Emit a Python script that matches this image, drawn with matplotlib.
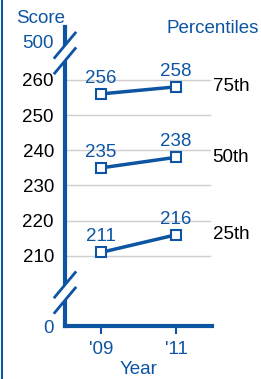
import matplotlib
matplotlib.use('Agg')
import matplotlib.pyplot as plt
from matplotlib.lines import Line2D
from matplotlib.patches import Polygon

plt.rcParams['font.family'] = ['Liberation Sans', 'DejaVu Sans']

years = [2009, 2011]
year_labels = ["'09", "'11"]
percentiles = ['75th', '50th', '25th']
scores = {
    '75th': [256, 258],
    '50th': [235, 238],
    '25th': [211, 216],
}
grid_ticks = [210, 220, 230, 240, 250, 260]

blue = '#0d55a3'
grey = '#cfcfcf'
fs = 13.5

fig = plt.figure(figsize=(2.61, 3.79), dpi=100)
ax = fig.add_axes([0.249, 0.1398, 0.563, 0.789])

ymin, ymax = 190.1, 275
ax.set_ylim(ymin, ymax)
ax.set_xlim(2008.04, 2011.96)

for t in grid_ticks:
    ax.plot([2008.04, 2011.9], [t, t], color=grey, lw=1, zorder=1)

for p in percentiles:
    ax.plot(years, scores[p], color=blue, lw=2.5, marker='s', ms=7.5,
            mfc='white', mec=blue, mew=1.5, zorder=3)
    for x, v in zip(years, scores[p]):
        ax.annotate(str(v), (x, v), xytext=(0, 5), textcoords='offset points',
                    ha='center', va='bottom', color=blue, fontsize=fs)
    ax.annotate(p, (2011, scores[p][1]), xytext=(1.005, 0),
                textcoords=('axes fraction', 'offset points'),
                ha='left', va='center', fontsize=fs, color='black',
                annotation_clip=False)

for s in ['top', 'right']:
    ax.spines[s].set_visible(False)
for s in ['left', 'bottom']:
    ax.spines[s].set_color(blue)
    ax.spines[s].set_linewidth(3)

ax.set_xticks(years)
ax.set_xticklabels(year_labels, color=blue, fontsize=fs)
ax.tick_params(axis='x', colors=blue, length=6, width=1.5, pad=5,
               labelcolor=blue)

ax.set_yticks([ymin] + grid_ticks + [270.8])
ax.set_yticklabels(['0'] + [str(t) for t in grid_ticks] + ['500'], fontsize=fs)
ax.tick_params(axis='y', length=0, pad=8)
for lab in ax.get_yticklabels():
    if lab.get_text() in ('0', '500'):
        lab.set_color(blue)

ax.set_xlabel('Year', color=blue, fontsize=fs, labelpad=2)

# axis breaks
for yb in [266.6, 198.6]:
    tr = ax.get_yaxis_transform()
    dy = 2.2
    poly = Polygon([(-0.07, yb - dy - 1.5), (0.07, yb - dy + 3.5),
                    (0.07, yb + dy + 3.5), (-0.07, yb + dy - 1.5)],
                   closed=True, transform=tr, facecolor='white',
                   edgecolor='none', zorder=5, clip_on=False)
    ax.add_patch(poly)
    for off in (-dy, dy):
        ax.add_line(Line2D([-0.07, 0.07], [yb + off - 2.5, yb + off + 4.5],
                           transform=tr, color=blue, lw=2, zorder=6,
                           clip_on=False))

fig.text(0.06, 0.95, 'Score', color=blue, fontsize=fs, ha='left', va='center')
fig.text(0.99, 0.925, 'Percentiles', color=blue, fontsize=fs, ha='right', va='center')

fig.add_artist(Line2D([0.006, 0.006], [0, 1], color=blue, lw=1.5))

fig.savefig('out.png', dpi=100)
